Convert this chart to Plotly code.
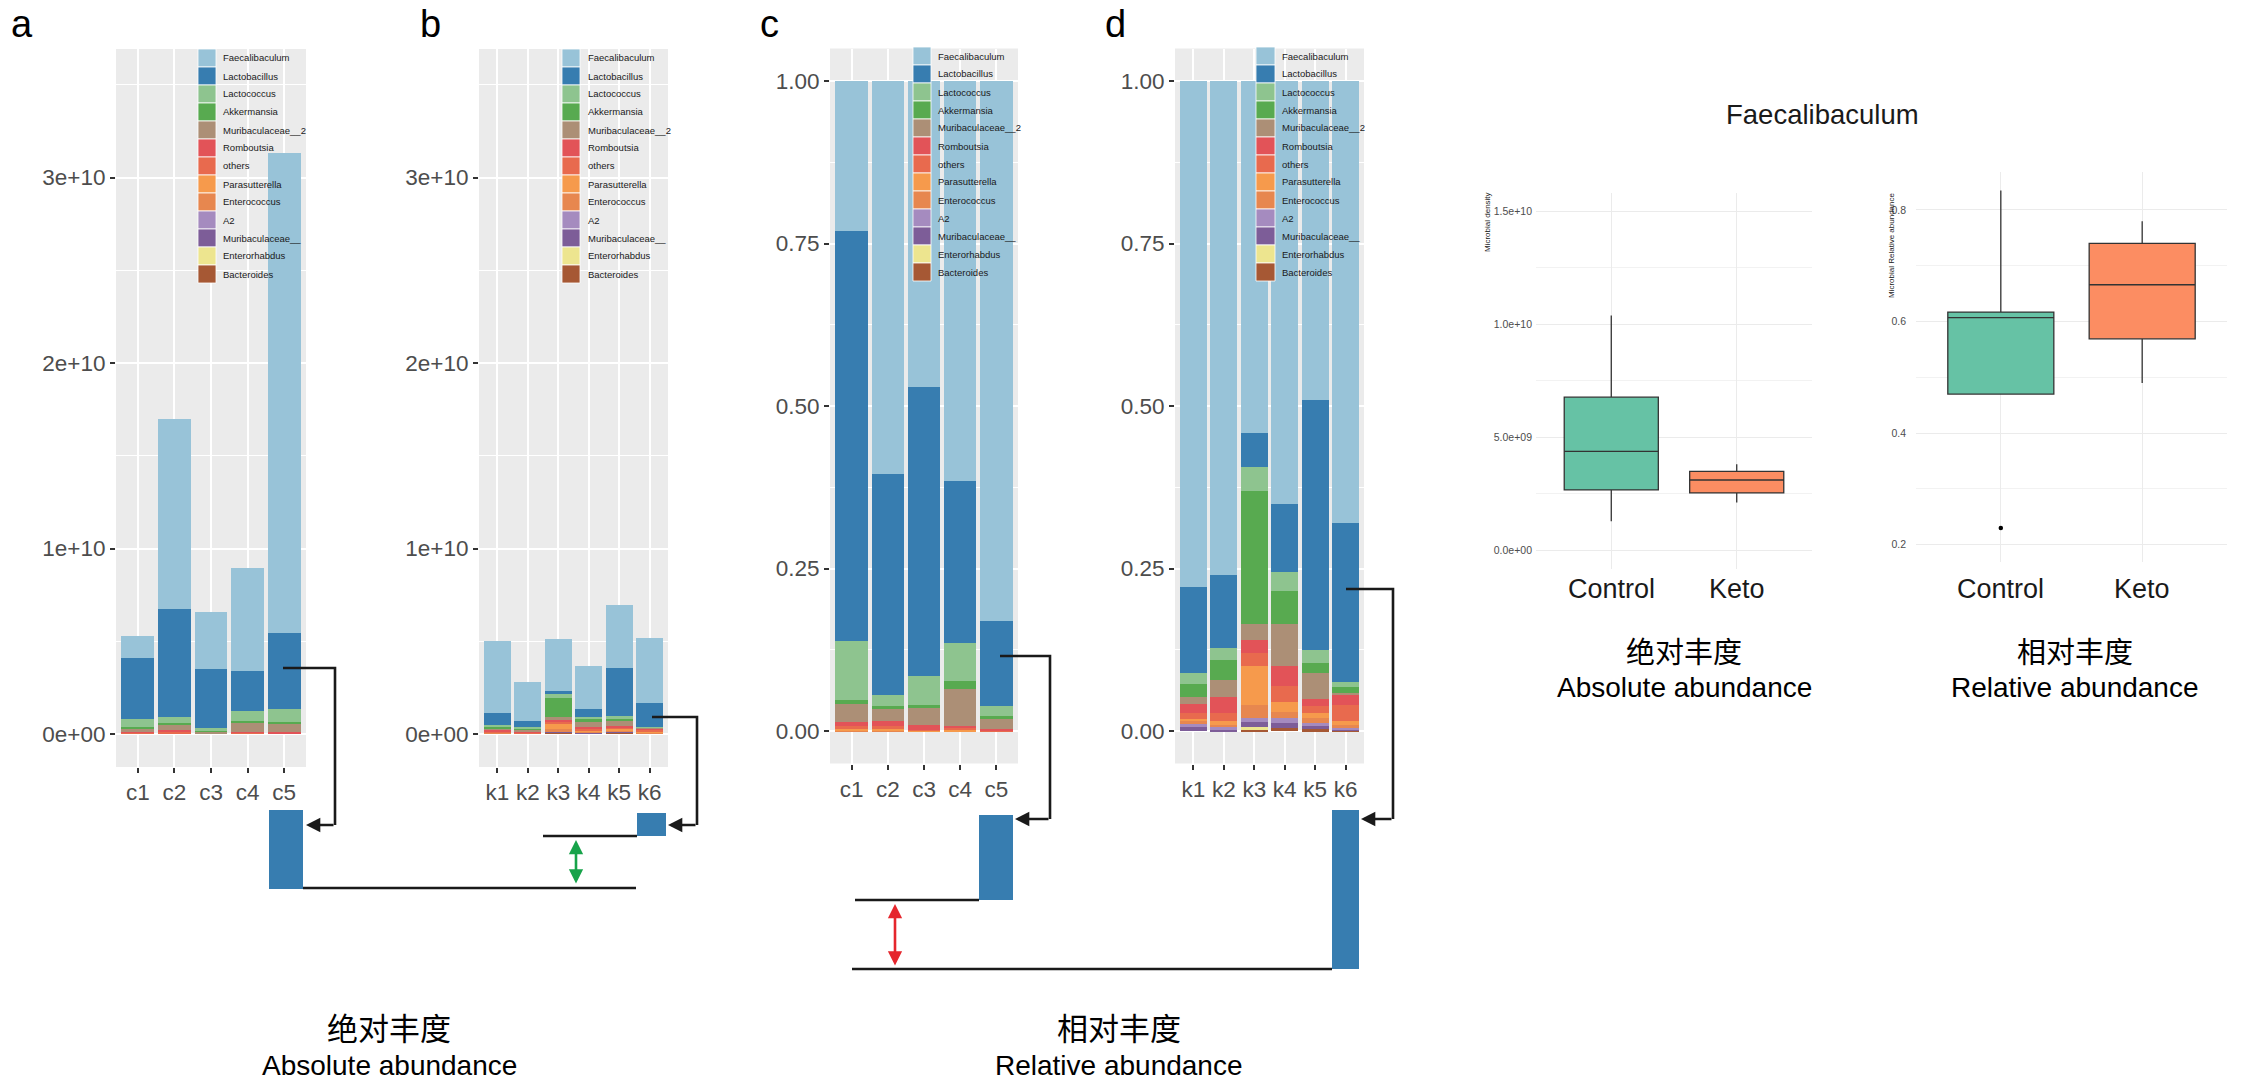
import plotly.graph_objects as go

W, H = 2241, 1081

# ---------------- data ----------------
taxa = ["Faecalibaculum", "Lactobacillus", "Lactococcus", "Akkermansia", "Muribaculaceae__2",
        "Romboutsia", "others", "Parasutterella", "Enterococcus", "A2", "Muribaculaceae__",
        "Enterorhabdus", "Bacteroides"]
taxa_colors = ["#98C3D8", "#377DB0", "#8EC48F", "#58AA50", "#AC8F76", "#E25358", "#E86A4E",
               "#F69A4C", "#E7874F", "#A58BBF", "#7D5D98", "#EDE58F", "#A65834"]

control_samples = ["c1", "c2", "c3", "c4", "c5"]
keto_samples = ["k1", "k2", "k3", "k4", "k5", "k6"]

# absolute abundance (units of 1e10), order c1..c5, k1..k6
abs_faecalibaculum = [0.120, 1.027, 0.308, 0.553, 2.584, 0.386, 0.212, 0.276, 0.232, 0.338, 0.348]
abs_lactobacillus = [0.330, 0.580, 0.318, 0.215, 0.412, 0.066, 0.032, 0.016, 0.043, 0.262, 0.129]
abs_lactococcus = [0.045, 0.035, 0.018, 0.055, 0.070, 0.008, 0.005, 0.022, 0.012, 0.014, 0.003]
abs_akkermansia = [0.005, 0.006, 0.002, 0.012, 0.010, 0.012, 0.009, 0.107, 0.018, 0.010, 0.003]
abs_muribaculaceae2 = [0.018, 0.030, 0.010, 0.048, 0.041, 0.006, 0.007, 0.013, 0.024, 0.028, 0.002]
abs_romboutsia = [0.006, 0.012, 0.003, 0.004, 0.008, 0.008, 0.007, 0.010, 0.011, 0.009, 0.008]
abs_others = [0.003, 0.006, 0.001, 0.004, 0.003, 0.005, 0.004, 0.010, 0.009, 0.007, 0.013]
abs_parasutterella = [0.002, 0.002, 0.000, 0.002, 0.002, 0.003, 0.002, 0.031, 0.006, 0.006, 0.003]
abs_enterococcus = [0.001, 0.002, 0.000, 0.000, 0.000, 0.002, 0.001, 0.010, 0.004, 0.006, 0.003]
abs_a2 = [0.0, 0.0, 0.0, 0.0, 0.0, 0.002, 0.001, 0.003, 0.003, 0.004, 0.001]
abs_muribaculaceae = [0.0, 0.0, 0.0, 0.0, 0.0, 0.002, 0.000, 0.004, 0.003, 0.003, 0.001]
abs_enterorhabdus = [0.0, 0.0, 0.0, 0.0, 0.0, 0.0, 0.0, 0.002, 0.0, 0.0, 0.0]
abs_bacteroides = [0.0, 0.0, 0.0, 0.0, 0.0, 0.0, 0.0, 0.006, 0.003, 0.008, 0.002]

# relative abundance, order c1..c5, k1..k6
rel_faecalibaculum = [0.230, 0.605, 0.470, 0.616, 0.830, 0.778, 0.760, 0.542, 0.650, 0.490, 0.680]
rel_lactobacillus = [0.631, 0.339, 0.446, 0.249, 0.132, 0.132, 0.112, 0.052, 0.105, 0.385, 0.245]
rel_lactococcus = [0.091, 0.017, 0.044, 0.058, 0.015, 0.017, 0.018, 0.036, 0.030, 0.020, 0.008]
rel_akkermansia = [0.006, 0.003, 0.005, 0.012, 0.004, 0.020, 0.031, 0.205, 0.050, 0.015, 0.008]
rel_muribaculaceae2 = [0.028, 0.020, 0.025, 0.058, 0.016, 0.011, 0.026, 0.025, 0.065, 0.040, 0.004]
rel_romboutsia = [0.007, 0.009, 0.008, 0.001, 0.002, 0.015, 0.025, 0.020, 0.030, 0.012, 0.015]
rel_others = [0.003, 0.003, 0.001, 0.004, 0.001, 0.008, 0.012, 0.020, 0.025, 0.010, 0.025]
rel_parasutterella = [0.002, 0.002, 0.001, 0.002, 0.000, 0.004, 0.006, 0.060, 0.015, 0.008, 0.005]
rel_enterococcus = [0.002, 0.002, 0.0, 0.0, 0.0, 0.004, 0.004, 0.020, 0.010, 0.008, 0.005]
rel_a2 = [0.0, 0.0, 0.0, 0.0, 0.0, 0.005, 0.003, 0.006, 0.008, 0.005, 0.002]
rel_muribaculaceae = [0.0, 0.0, 0.0, 0.0, 0.0, 0.006, 0.003, 0.008, 0.007, 0.004, 0.002]
rel_enterorhabdus = [0.0, 0.0, 0.0, 0.0, 0.0, 0.0, 0.0, 0.003, 0.0, 0.0, 0.0]
rel_bacteroides = [0.0, 0.0, 0.0, 0.0, 0.0, 0.0, 0.0, 0.003, 0.005, 0.003, 0.001]

abs_tickvals = [0, 1, 2, 3]
abs_ticktext = ["0e+00", "1e+10", "2e+10", "3e+10"]
abs_minorvals = [0.5, 1.5, 2.5, 3.5]
rel_tickvals = [0, 0.25, 0.5, 0.75, 1.0]
rel_ticktext = ["0.00", "0.25", "0.50", "0.75", "1.00"]
rel_minorvals = [0.125, 0.375, 0.625, 0.875]

box_groups = ["Control", "Keto"]
box_colors = ["#66C2A5", "#FC8D62"]
density_q1 = [0.266, 0.253]
density_median = [0.437, 0.310]
density_q3 = [0.677, 0.348]
density_low = [0.127, 0.210]
density_high = [1.038, 0.380]
density_tickvals = [0, 0.5, 1.0, 1.5]
density_ticktext = ["0.0e+00", "5.0e+09", "1.0e+10", "1.5e+10"]
density_minorvals = [0.25, 0.75, 1.25]

relab_q1 = [0.470, 0.569]
relab_median = [0.607, 0.666]
relab_q3 = [0.617, 0.740]
relab_low = [0.470, 0.490]
relab_high = [0.835, 0.780]
relab_outlier_group = ["Control"]
relab_outlier = [0.230]
relab_tickvals = [0.2, 0.4, 0.6, 0.8]
relab_ticktext = ["0.2", "0.4", "0.6", "0.8"]
relab_minorvals = [0.3, 0.5, 0.7]

abs_series = [abs_faecalibaculum, abs_lactobacillus, abs_lactococcus, abs_akkermansia,
              abs_muribaculaceae2, abs_romboutsia, abs_others, abs_parasutterella,
              abs_enterococcus, abs_a2, abs_muribaculaceae, abs_enterorhabdus, abs_bacteroides]
rel_series = [rel_faecalibaculum, rel_lactobacillus, rel_lactococcus, rel_akkermansia,
              rel_muribaculaceae2, rel_romboutsia, rel_others, rel_parasutterella,
              rel_enterococcus, rel_a2, rel_muribaculaceae, rel_enterorhabdus, rel_bacteroides]

# ---------------- helpers ----------------
def fx(px):
    return px / W


def fy(py):
    return 1 - py / H


FONT = "Liberation Sans, Arial, sans-serif"
CJK = "Noto Sans CJK SC, sans-serif"

fig = go.Figure()
shapes = []
annotations = []
layout_axes = {}

panels = [
    dict(letter="a", lx=22, n="", samples=control_samples, idx=slice(0, 5), series=abs_series,
         px=(116, 306), py=(49, 767), yr=[-0.178, 3.693], tv=abs_tickvals, tt=abs_ticktext,
         mv=abs_minorvals, leg=(198, 216, 221, 49)),
    dict(letter="b", lx=430, n="2", samples=keto_samples, idx=slice(5, 11), series=abs_series,
         px=(479, 668), py=(49, 767), yr=[-0.178, 3.693], tv=abs_tickvals, tt=abs_ticktext,
         mv=abs_minorvals, leg=(562, 580, 586, 49)),
    dict(letter="c", lx=769, n="3", samples=control_samples, idx=slice(0, 5), series=rel_series,
         px=(830, 1018), py=(48.5, 763.5), yr=[-0.05, 1.05], tv=rel_tickvals, tt=rel_ticktext,
         mv=rel_minorvals, leg=(913, 931, 936, 47)),
    dict(letter="d", lx=1115, n="4", samples=keto_samples, idx=slice(5, 11), series=rel_series,
         px=(1175, 1364), py=(48.5, 763.5), yr=[-0.05, 1.05], tv=rel_tickvals, tt=rel_ticktext,
         mv=rel_minorvals, leg=(1256, 1275, 1280, 47)),
]

for p in panels:
    xa = "x" + p["n"]
    ya = "y" + p["n"]
    nsamp = len(p["samples"])
    # bars: bottom of stack first (ggplot puts first level on top)
    for t in range(len(taxa) - 1, -1, -1):
        fig.add_trace(go.Bar(
            x=p["samples"], y=p["series"][t][p["idx"]], name=taxa[t],
            marker=dict(color=taxa_colors[t], line=dict(width=0)),
            width=0.9, xaxis=xa, yaxis=ya, showlegend=False))
    layout_axes["xaxis" + p["n"]] = dict(
        domain=[fx(p["px"][0]), fx(p["px"][1])], anchor=ya, type="category",
        categoryorder="array", categoryarray=p["samples"], range=[-0.6, nsamp - 0.4],
        showgrid=True, gridcolor="white", gridwidth=2.2, zeroline=False, showline=False,
        ticks="outside", ticklen=5, tickwidth=2, tickcolor="#333333",
        tickfont=dict(size=22.5, color="#4D4D4D", family=FONT))
    layout_axes["yaxis" + p["n"]] = dict(
        domain=[fy(p["py"][1]), fy(p["py"][0])], anchor=xa, range=p["yr"],
        tickmode="array", tickvals=p["tv"], ticktext=p["tt"],
        showgrid=True, gridcolor="white", gridwidth=2.2, zeroline=False, showline=False,
        ticks="outside", ticklen=5, tickwidth=2, tickcolor="#333333",
        tickfont=dict(size=22.5, color="#4D4D4D", family=FONT),
        minor=dict(tickmode="array", tickvals=p["mv"], showgrid=True, gridcolor="white",
                   gridwidth=1.1, ticks=""))
    shapes.append(dict(type="rect", xref=xa + " domain", yref=ya + " domain", x0=0, x1=1,
                       y0=0, y1=1, fillcolor="#EBEBEB", line=dict(width=0), layer="below"))
    # panel letter
    annotations.append(dict(text=p["letter"], x=fx(p["lx"]), y=fy(1), xref="paper", yref="paper",
                            showarrow=False, xanchor="center", yanchor="top",
                            font=dict(size=38, color="black", family=FONT)))
    # manual legend
    kx0, kx1, tx, top = p["leg"]
    row = 18.0
    for i, name in enumerate(taxa):
        y0 = top + i * row
        shapes.append(dict(type="rect", xref="paper", yref="paper", x0=fx(kx0), x1=fx(kx1),
                           y0=fy(y0 + row), y1=fy(y0), fillcolor=taxa_colors[i],
                           line=dict(color="white", width=0.8), layer="above"))
        annotations.append(dict(text=name, x=fx(tx), y=fy(y0 + row / 2), xref="paper", yref="paper",
                                showarrow=False, xanchor="left", yanchor="middle",
                                font=dict(size=9.5, color="#1A1A1A", family=FONT)))

# ---------------- box plots ----------------
for i, g in enumerate(box_groups):
    fig.add_trace(go.Box(
        x=[g], q1=[density_q1[i]], median=[density_median[i]], q3=[density_q3[i]],
        lowerfence=[density_low[i]], upperfence=[density_high[i]], name=g,
        fillcolor=box_colors[i], line=dict(color="#333333", width=1.3), whiskerwidth=0,
        width=0.75, boxpoints=False, xaxis="x5", yaxis="y5", showlegend=False))
    fig.add_trace(go.Box(
        x=[g], q1=[relab_q1[i]], median=[relab_median[i]], q3=[relab_q3[i]],
        lowerfence=[relab_low[i]], upperfence=[relab_high[i]], name=g,
        fillcolor=box_colors[i], line=dict(color="#333333", width=1.3), whiskerwidth=0,
        width=0.75, boxpoints=False, xaxis="x6", yaxis="y6", showlegend=False))
fig.add_trace(go.Scatter(x=relab_outlier_group, y=relab_outlier, mode="markers",
                         marker=dict(color="black", size=4.5), xaxis="x6", yaxis="y6",
                         showlegend=False))

box_axes = [
    dict(n="5", px=(1536, 1812), py=(193, 569), yr=[-0.084, 1.581], tv=density_tickvals,
         tt=density_ticktext, mv=density_minorvals, standoff=3),
    dict(n="6", px=(1916, 2227), py=(171.5, 562), yr=[0.169, 0.869], tv=relab_tickvals,
         tt=relab_ticktext, mv=relab_minorvals, standoff=9),
]
for b in box_axes:
    layout_axes["xaxis" + b["n"]] = dict(
        domain=[fx(b["px"][0]), fx(b["px"][1])], anchor="y" + b["n"], type="category",
        categoryorder="array", categoryarray=box_groups, range=[-0.6, 1.6],
        showgrid=True, gridcolor="#EBEBEB", gridwidth=1.3, zeroline=False, showline=False,
        ticks="", showticklabels=False)
    layout_axes["yaxis" + b["n"]] = dict(
        domain=[fy(b["py"][1]), fy(b["py"][0])], anchor="x" + b["n"], range=b["yr"],
        tickmode="array", tickvals=b["tv"], ticktext=b["tt"], ticks="",
        ticklabelstandoff=b["standoff"],
        showgrid=True, gridcolor="#EBEBEB", gridwidth=1.3, zeroline=False, showline=False,
        tickfont=dict(size=10.5, color="#4D4D4D", family=FONT),
        minor=dict(tickmode="array", tickvals=b["mv"], showgrid=True, gridcolor="#F2F2F2",
                   gridwidth=0.9, ticks=""))

# group labels under box plots
for xa in ("x5", "x6"):
    for g in box_groups:
        annotations.append(dict(text=g, x=g, xref=xa, y=fy(589), yref="paper", showarrow=False,
                                xanchor="center", yanchor="middle",
                                font=dict(size=27, color="#1A1A1A", family=FONT)))

annotations.append(dict(text="Microbial density", x=fx(1487), y=fy(222), xref="paper", yref="paper",
                        showarrow=False, textangle=-90, xanchor="center", yanchor="middle",
                        font=dict(size=8, color="#1A1A1A", family=FONT)))
annotations.append(dict(text="Microbial Relative abundance", x=fx(1891), y=fy(245), xref="paper",
                        yref="paper", showarrow=False, textangle=-90, xanchor="center",
                        yanchor="middle", font=dict(size=8, color="#1A1A1A", family=FONT)))
annotations.append(dict(text="Faecalibaculum", x=fx(1822), y=fy(114), xref="paper", yref="paper",
                        showarrow=False, xanchor="center", yanchor="middle",
                        font=dict(size=27.5, color="#1A1A1A", family=FONT)))

captions = [
    ("绝对丰度", 1684, 650, 29, CJK), ("Absolute abundance", 1684, 687, 28, FONT),
    ("相对丰度", 2075, 650, 29, CJK), ("Relative abundance", 2075, 687, 28, FONT),
    ("绝对丰度", 389, 1026, 31, CJK), ("Absolute abundance", 389, 1065, 28, FONT),
    ("相对丰度", 1119, 1026, 31, CJK), ("Relative abundance", 1119, 1065, 28, FONT),
]
for txt, cx, cy, sz, fam in captions:
    annotations.append(dict(text=txt, x=fx(cx), y=fy(cy), xref="paper", yref="paper",
                            showarrow=False, xanchor="center", yanchor="middle",
                            font=dict(size=sz, color="black", family=fam)))

# ---------------- schematic brackets / arrows ----------------
LINE = "#1A1A1A"
BLUE = "#377DB0"


def path(points, color=LINE, width=2.6):
    d = "M " + " L ".join(f"{fx(a)},{fy(b)}" for a, b in points)
    shapes.append(dict(type="path", xref="paper", yref="paper", path=d,
                       line=dict(color=color, width=width), layer="above"))


def rect(x0, x1, y0, y1):
    shapes.append(dict(type="rect", xref="paper", yref="paper", x0=fx(x0), x1=fx(x1),
                       y0=fy(y1), y1=fy(y0), fillcolor=BLUE, line=dict(width=0), layer="above"))


def arrow(tipx, tipy, tailx, taily, color=LINE, both=False, width=2.6):
    annotations.append(dict(text="", x=fx(tipx), y=fy(tipy), xref="paper", yref="paper",
                            ax=tailx - tipx, ay=taily - tipy, axref="pixel", ayref="pixel",
                            showarrow=True, arrowhead=2, arrowsize=1.1, arrowwidth=width,
                            arrowcolor=color, arrowside="end+start" if both else "end",
                            standoff=0, startstandoff=0))


# a
path([(283, 668), (335, 668), (335, 825)])
arrow(306, 825, 335, 825)
rect(269, 303, 810, 889)
path([(303, 888), (636, 888)])
# b
path([(652, 717), (697, 717), (697, 825)])
arrow(668, 825, 697, 825)
rect(637, 666, 813, 836)
path([(543, 836), (637, 836)])
arrow(576, 840, 576, 885, color="#17A34A", both=True, width=2.6)
# c
path([(1000, 656), (1050, 656), (1050, 819)])
arrow(1015, 819, 1050, 819)
rect(979, 1013, 815, 900)
path([(855, 900), (979, 900)])
arrow(895, 904, 895, 967, color="#E5262D", both=True, width=2.6)
# d
path([(1346, 589), (1393, 589), (1393, 819)])
arrow(1361, 819, 1393, 819)
rect(1332, 1359, 810, 969)
path([(852, 969), (1332, 969)])

fig.update_layout(
    width=W, height=H, margin=dict(l=0, r=0, t=0, b=0),
    paper_bgcolor="white", plot_bgcolor="rgba(0,0,0,0)",
    barmode="stack", bargap=0.1, font=dict(family=FONT),
    shapes=shapes, annotations=annotations, **layout_axes)

fig.write_html("out.html", config={"displayModeBar": False},
               post_script="document.body.style.margin='0';document.body.style.overflow='hidden';")
